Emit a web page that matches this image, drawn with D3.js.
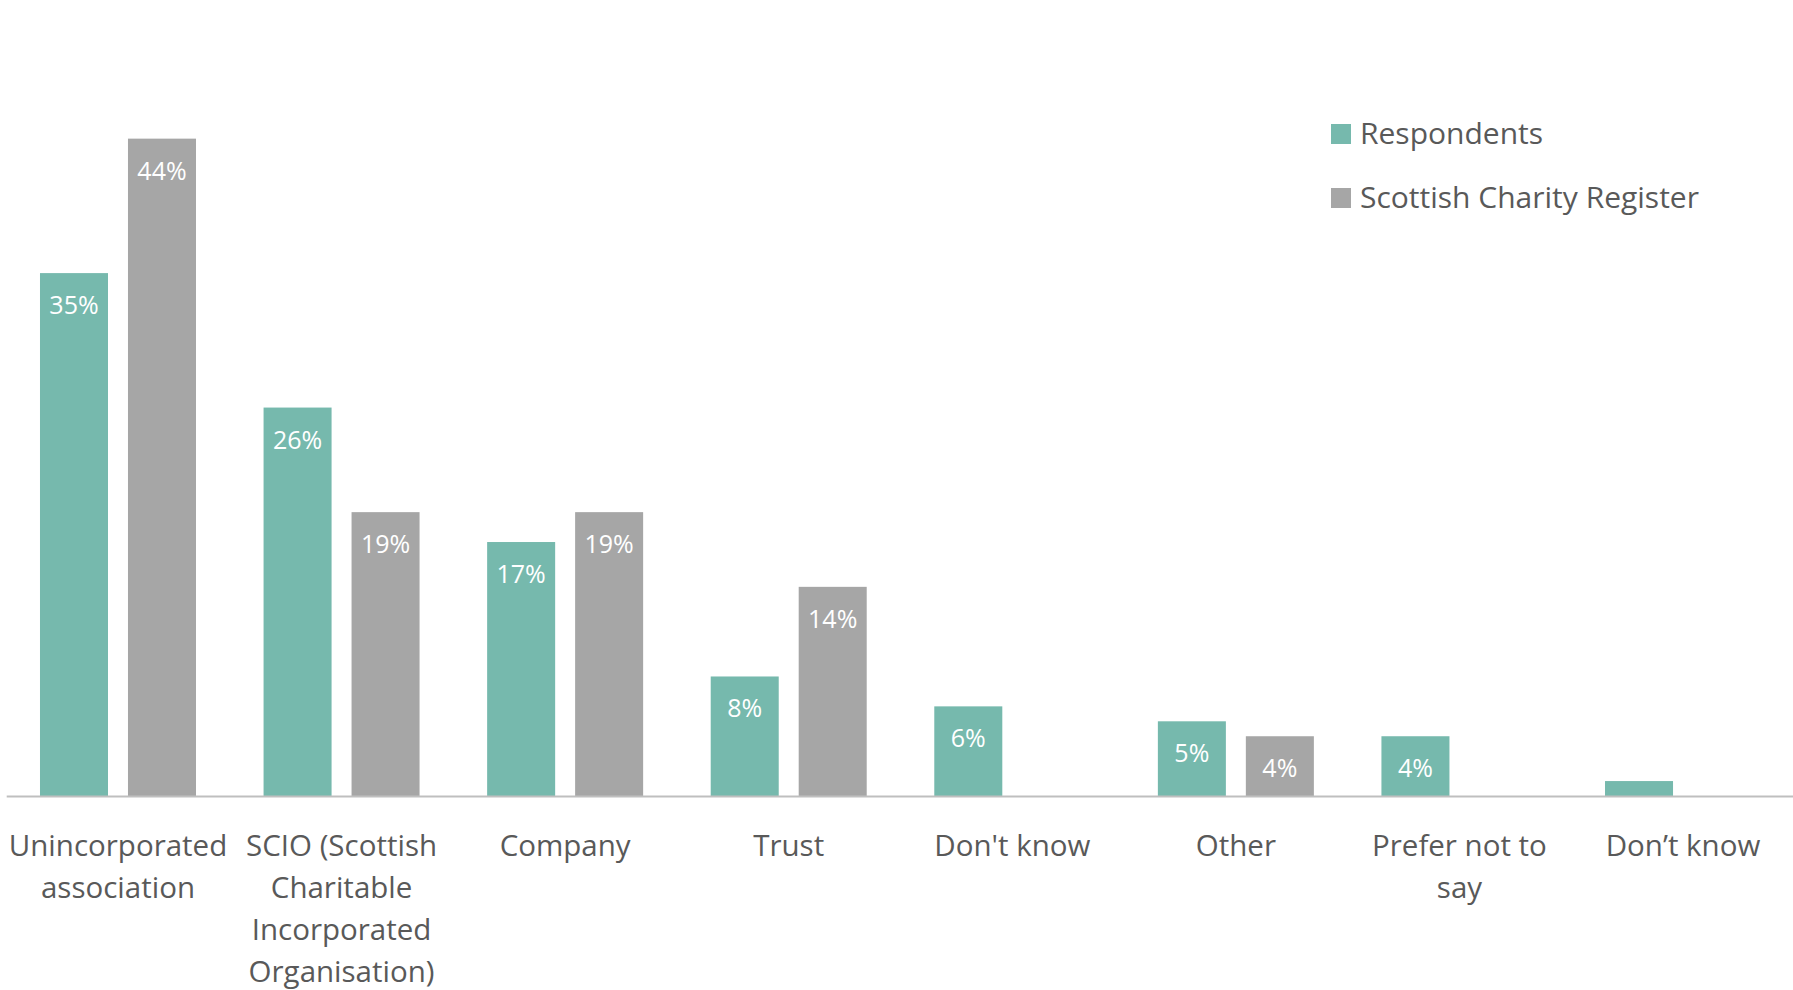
<!DOCTYPE html>
<html>
<head>
<meta charset="utf-8">
<script src="https://cdn.jsdelivr.net/npm/d3@7"></script>
<style>
  html, body { margin: 0; padding: 0; background: #ffffff; }
</style>
</head>
<body>
<div id="grafico"></div>
<script>
const categorias = [
  "Unincorporated\nassociation",
  "SCIO (Scottish\nCharitable\nIncorporated\nOrganisation)",
  "Company",
  "Trust",
  "Don't know",
  "Other",
  "Prefer not to\nsay",
  "Don\u2019t know"
];

const series = ["Respondents", "Scottish Charity Register"];

const respondents = [35, 26, 17, 8, 6, 5, 4, 1];

const registro = [44, 19, 19, 14, null, 4, null, null];

const colores = ["#76b9ad", "#a6a6a6"];

const width = 1793;
const height = 990;

const base = 796;
const fuente = "'Segoe UI', 'Open Sans', sans-serif";

const datos = categorias.map((c, i) => ({
  categoria: c,
  valores: [
    { serie: series[0], valor: respondents[i] },
    { serie: series[1], valor: registro[i] }
  ]
}));

const x0 = d3.scaleBand()
  .domain(categorias)
  .range([6.2, 1794.8])
  .padding(0);

const x1 = d3.scaleBand()
  .domain(series)
  .range([0, x0.bandwidth()])
  .paddingInner(0.227)
  .paddingOuter(0.384);

const y = d3.scaleLinear()
  .domain([0, 50])
  .range([base, base - 747]);

const color = d3.scaleOrdinal()
  .domain(series)
  .range(colores);

const svg = d3.create("svg")
  .attr("width", width)
  .attr("height", height)
  .attr("viewBox", `0 0 ${width} ${height}`)
  .style("display", "block")
  .style("background", "#ffffff")
  .style("font-family", fuente);

const grupos = svg.append("g")
  .selectAll("g")
  .data(datos)
  .join("g")
  .attr("transform", d => `translate(${x0(d.categoria)},0)`);

grupos.selectAll("rect")
  .data(d => d.valores.filter(v => v.valor != null))
  .join("rect")
  .attr("x", d => x1(d.serie))
  .attr("y", d => y(d.valor))
  .attr("width", x1.bandwidth())
  .attr("height", d => base - y(d.valor))
  .attr("fill", d => color(d.serie));

// etiquetas dentro de la barra, se omiten en barras muy bajas
grupos.selectAll("text")
  .data(d => d.valores.filter(v => v.valor != null && v.valor >= 2))
  .join("text")
  .attr("x", d => x1(d.serie) + x1.bandwidth() / 2)
  .attr("y", d => y(d.valor) + 41)
  .attr("text-anchor", "middle")
  .style("font-size", "25px")
  .style("fill", "#ffffff")
  .text(d => `${d.valor}%`);

// eje x
const ejeX = svg.append("g")
  .attr("transform", `translate(0,${base})`)
  .call(
    d3.axisBottom(x0)
      .tickSize(0)
      .tickPadding(0)
  );

ejeX.select(".domain")
  .attr("stroke", "#bfbfbf")
  .attr("stroke-width", 2);

ejeX.selectAll(".tick text").remove();

ejeX.selectAll(".tick")
  .append("text")
  .attr("text-anchor", "middle")
  .style("font-family", fuente)
  .style("font-size", "29.5px")
  .style("fill", "#595959")
  .selectAll("tspan")
  .data(d => d.split("\n"))
  .join("tspan")
  .attr("x", 0)
  .attr("y", (d, i) => 60 + i * 42)
  .text(d => d);

// leyenda
const leyenda = svg.append("g")
  .selectAll("g")
  .data(series)
  .join("g")
  .attr("transform", (d, i) => `translate(1331,${124 + i * 64})`);

leyenda.append("rect")
  .attr("width", 20)
  .attr("height", 20)
  .attr("fill", d => color(d));

leyenda.append("text")
  .attr("x", 29)
  .attr("y", 20)
  .style("font-size", "30px")
  .style("fill", "#595959")
  .text(d => d);

document
  .getElementById("grafico")
  .append(svg.node());
</script>
</body>
</html>
